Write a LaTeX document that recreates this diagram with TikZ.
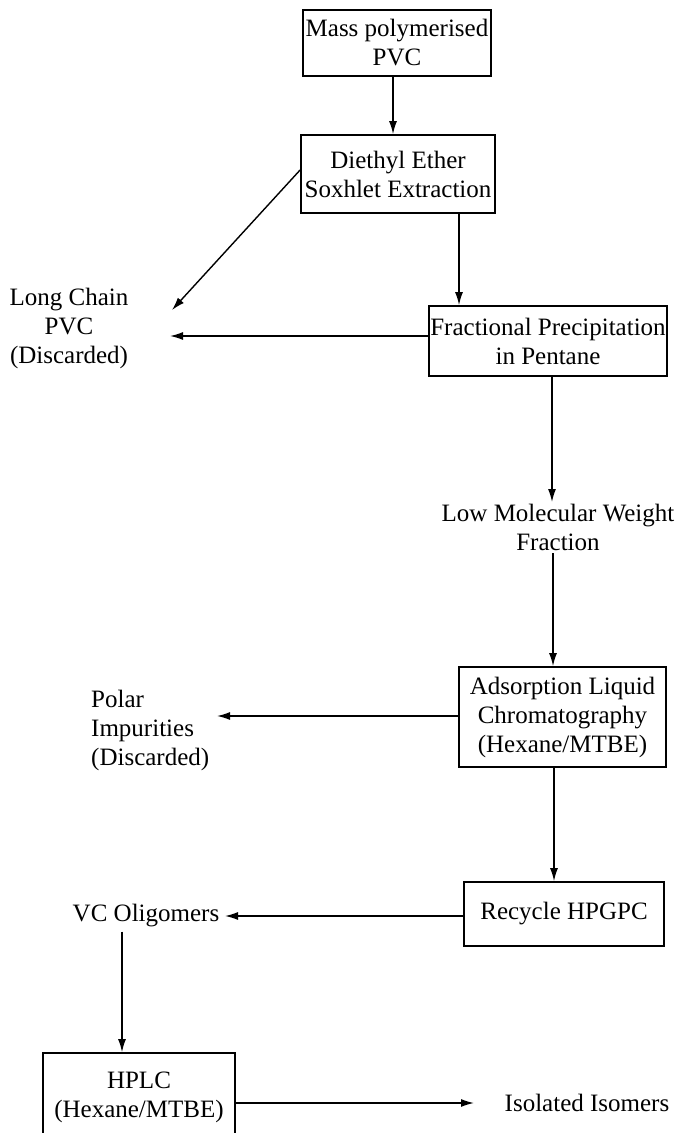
\documentclass[tikz,border=0pt]{standalone}
\usepackage{fontspec}
\setmainfont{Liberation Serif}
\usetikzlibrary{arrows.meta}
\begin{document}
\begin{tikzpicture}[x=1pt,y=-1pt,
  every node/.style={font=\fontsize{25}{29}\selectfont},
  box/.style={draw,line width=1.8pt,align=center,inner sep=0pt},
  lbl/.style={align=center,inner sep=2pt},
  arr/.style={line width=1.4pt,-{Latex[length=13pt,width=8pt]}}]
\path[use as bounding box] (0,0) rectangle (682,1133);
\clip (0,0) rectangle (682,1133);
\node[box,minimum width=188pt,minimum height=66pt] (mass) at (397,43) {Mass polymerised\\PVC};
\node[box,minimum width=194pt,minimum height=78pt] (diethyl) at (398,174) {Diethyl Ether\\Soxhlet Extraction};
\node[box,minimum width=238pt,minimum height=70pt] (frac) at (548,341) {Fractional Precipitation\\in Pentane};
\node[lbl] (lmw) at (558,527.5) {Low Molecular Weight\\Fraction};
\node[box,minimum width=207pt,minimum height=100pt] (adsorp) at (562.5,717) {Adsorption Liquid\\Chromatography\\(Hexane/MTBE)};
\node[box,minimum width=200pt,minimum height=64pt] (recyc) at (564,914) {Recycle HPGPC};
\node[lbl,inner sep=4pt] (vc) at (146,916) {VC Oligomers};
\node[box,minimum width=192pt,minimum height=88pt] (hplc) at (139,1097) {HPLC\\(Hexane/MTBE)};
\node[lbl] (iso) at (587,1103) {Isolated Isomers};
\node[lbl] (lc) at (69,328) {Long Chain\\PVC\\(Discarded)};
\node[lbl,align=left,anchor=west,inner sep=0pt] (polar) at (91,730) {Polar\\Impurities\\(Discarded)};
\coordinate (lcTop) at (172,310);
\coordinate (lcMid) at (170,336);
\coordinate (polarEnd) at (217,716);
\coordinate (vcEnd) at (225,916);
\coordinate (isoEnd) at (474,1103);
\draw[arr] ([xshift=-4pt]mass.south) -- ([xshift=-4pt]mass.south |- diethyl.north);
\draw[arr] ([yshift=4pt]diethyl.west) -- (lcTop);
\draw[arr] ([xshift=61pt]diethyl.south) -- ([xshift=61pt]diethyl.south |- frac.north);
\draw[arr] ([yshift=5pt]frac.west) -- (lcMid);
\draw[arr] ([xshift=4pt]frac.south) -- ([xshift=4pt]frac.south |- lmw.north);
\draw[arr] ([xshift=-5pt]lmw.south) -- ([xshift=-5pt]lmw.south |- adsorp.north);
\draw[arr] ([yshift=1pt]adsorp.west) -- (polarEnd);
\draw[arr] ([xshift=-8.5pt]adsorp.south) -- ([xshift=-8.5pt]adsorp.south |- recyc.north);
\draw[arr] ([yshift=-2pt]recyc.west) -- (vcEnd);
\draw[arr] ([xshift=-24pt]vc.south) -- ([xshift=-24pt]vc.south |- hplc.north);
\draw[arr] ([yshift=-6pt]hplc.east) -- (isoEnd);
\end{tikzpicture}
\end{document}
